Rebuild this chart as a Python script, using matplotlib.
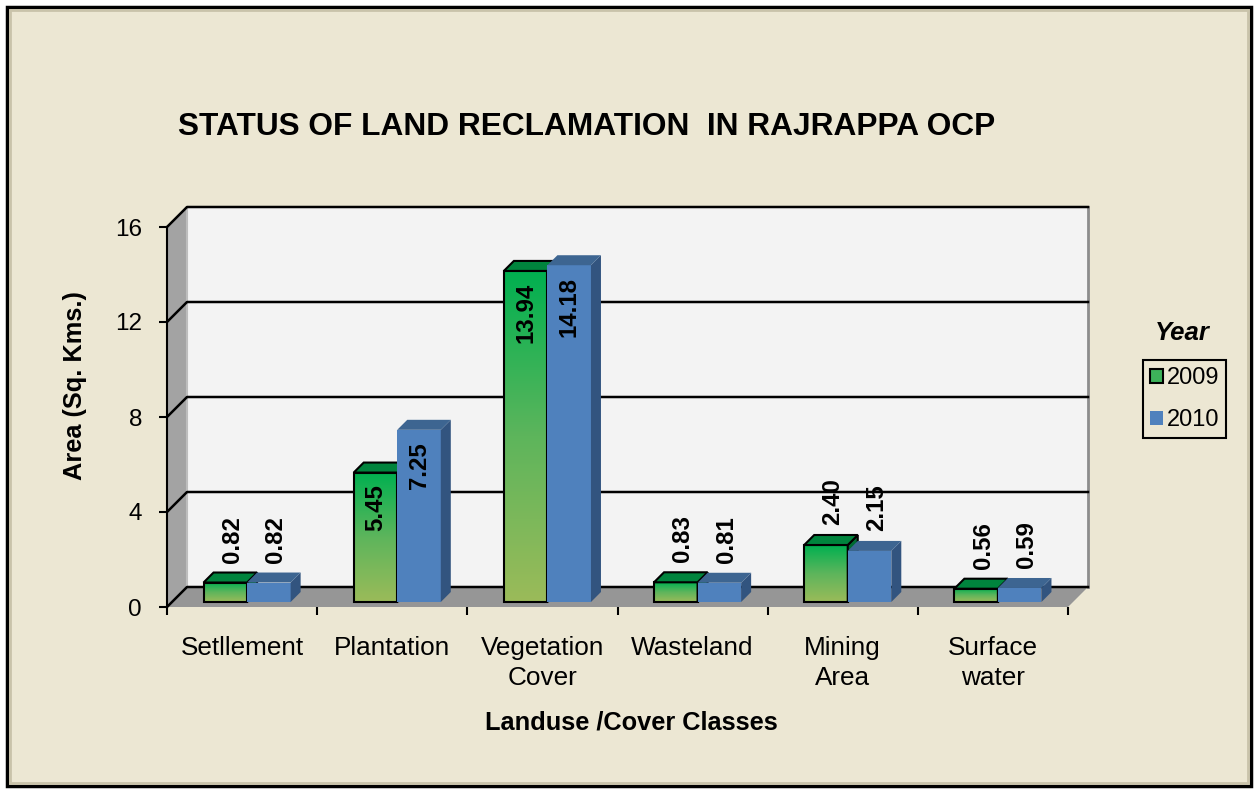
import numpy as np
import matplotlib
matplotlib.use('Agg')
import matplotlib.pyplot as plt
import matplotlib.transforms as mtransforms
from matplotlib.patches import Rectangle, Polygon, Patch
from matplotlib.colors import LinearSegmentedColormap

plt.rcParams['font.family'] = ['Liberation Sans', 'DejaVu Sans']

categories = ['Setllement', 'Plantation', 'Vegetation\nCover', 'Wasteland', 'Mining\nArea', 'Surface\nwater']
y2009 = [0.82, 5.45, 13.94, 0.83, 2.40, 0.56]
y2010 = [0.82, 7.25, 14.18, 0.81, 2.15, 0.59]
years = ['2009', '2010']
yticks = [0, 4, 8, 12, 16]

W, H = 1256, 790
fig = plt.figure(figsize=(W / 100, H / 100), dpi=100, facecolor='white')
bg = '#ECE7D3'

# outer frame with a little bevel
fig.patches.append(Rectangle((7 / W, 4 / H), 1244 / W, 779 / H, transform=fig.transFigure,
                             facecolor=bg, edgecolor='black', lw=2.5, zorder=-2))
fig.patches.append(Rectangle((10 / W, 7 / H), 1238 / W, 773 / H, transform=fig.transFigure,
                             facecolor='none', edgecolor='#C9C3AA', lw=2, zorder=-1))

# front plane of the pseudo-3D plot
ax = fig.add_axes([167 / W, (H - 607) / H, 901 / W, 380 / H])
ax.patch.set_visible(False)
n = len(categories)
ax.set_xlim(-0.5, n - 0.5)
ax.set_ylim(0, 16)
ax.set_autoscale_on(False)

DEPTH = 20      # full depth of the box, pixels
B0, B1 = 5, 15  # bars sit between these depths


def px(x, y, d):
    X, Y = ax.transData.transform((x, y))
    return (X + d, Y + d)


def poly(pts, **kw):
    p = Polygon(pts, closed=True, transform=mtransforms.IdentityTransform(), clip_on=False, **kw)
    ax.add_patch(p)
    return p


def line(pts, **kw):
    xs, ys = zip(*pts)
    ax.plot(xs, ys, transform=mtransforms.IdentityTransform(), clip_on=False, **kw)


x0, x1 = -0.5, n - 0.5
# back wall
poly([px(x0, 0, DEPTH), px(x1, 0, DEPTH), px(x1, 16, DEPTH), px(x0, 16, DEPTH)],
     facecolor='#F3F3F3', edgecolor='none', zorder=1)
line([px(x1, 0, DEPTH), px(x1, 16, DEPTH)], color='#8C8C8C', lw=2, zorder=1.2)
# floor
poly([px(x0, 0, 0), px(x1, 0, 0), px(x1, 0, DEPTH), px(x0, 0, DEPTH)],
     facecolor='#969696', edgecolor='none', zorder=1.1)
# left wall
poly([px(x0, 0, 0), px(x0, 16, 0), px(x0, 16, DEPTH), px(x0, 0, DEPTH)],
     facecolor='#A3A3A3', edgecolor='none', zorder=1.1)
line([px(x0, 0, DEPTH), px(x0, 16, DEPTH)], color='#BDBDBD', lw=1.5, zorder=1.2)
# gridlines on back and left walls
for t in yticks:
    line([px(x0, t, 0), px(x0, t, DEPTH), px(x1, t, DEPTH)], color='black', lw=1.8, zorder=1.3)

front = mtransforms.offset_copy(ax.transData, fig=fig, x=B0, y=B0, units='dots')
x = np.arange(n)
w = 0.29
grad_cmap = LinearSegmentedColormap.from_list('g', ['#9BBB59', '#5DB55C', '#00B050'])
grad = np.linspace(0, 1, 256).reshape(-1, 1)

green = ax.bar(x - w, y2009, w, align='edge', facecolor='none', edgecolor='black', lw=1.5)
blue = ax.bar(x, y2010, w, align='edge', facecolor='#4F81BD', edgecolor='none')

for i in range(n):
    z = 3 + i * 0.1
    for bars, kind in ((green, 'g'), (blue, 'b')):
        p = bars[i]
        p.set_transform(front)
        bx0 = p.get_x()
        bx1 = bx0 + p.get_width()
        h = p.get_height()
        off = 0 if kind == 'g' else 0.04
        if kind == 'g':
            p.set_zorder(z + 0.02)
            im = ax.imshow(grad, extent=(bx0, bx1, 0, h), origin='lower', cmap=grad_cmap,
                           aspect='auto', transform=front, zorder=z + 0.01,
                           interpolation='bilinear')
            im.set_clip_path(p)
            topc, sidec, ec = '#00843D', '#006B32', 'black'
        else:
            p.set_zorder(z + 0.05)
            topc, sidec, ec = '#3D6591', '#32547F', 'none'
        poly([px(bx0, h, B0), px(bx1, h, B0), px(bx1, h, B1), px(bx0, h, B1)],
             facecolor=topc, edgecolor=ec, lw=1.5, zorder=z + 0.03 + off)
        poly([px(bx1, 0, B0), px(bx1, h, B0), px(bx1, h, B1), px(bx1, 0, B1)],
             facecolor=sidec, edgecolor=ec, lw=1.5, zorder=z + 0.025 + off)
        # value label
        xc = bx0 + p.get_width() / 2
        v = h
        if v > 4:
            tr = mtransforms.offset_copy(ax.transData, fig=fig, x=B0, y=B0 - 12, units='dots')
            ax.text(xc, v, f'{v:.2f}', transform=tr, rotation=90, ha='center', va='top',
                    fontsize=17.3, fontweight='bold', zorder=10)
        else:
            tr = mtransforms.offset_copy(ax.transData, fig=fig, x=B0 + 7, y=B0 + 20, units='dots')
            ax.text(xc, v, f'{v:.2f}', transform=tr, rotation=90, ha='center', va='bottom',
                    fontsize=17.3, fontweight='bold', zorder=10)

# axes, ticks
for s in ['top', 'right', 'bottom']:
    ax.spines[s].set_visible(False)
ax.spines['left'].set_linewidth(1.5)
ax.spines['left'].set_zorder(2)
ax.set_yticks(yticks)
ax.tick_params(axis='y', direction='out', length=6, width=1.5, pad=12, labelsize=17.5)
ax.set_xticks(np.arange(n + 1) - 0.5)
ax.set_xticklabels([])
ax.set_xticks(x, minor=True)
ax.set_xticklabels(categories, minor=True)
ax.tick_params(axis='x', which='major', direction='out', length=6, width=1.5)
ax.tick_params(axis='x', which='minor', length=0, pad=21, labelsize=18.8)
for t in ax.get_xticklabels(minor=True):
    t.set_linespacing(1.3)

fig.text(587 / W, 1 - 127 / H, 'STATUS OF LAND RECLAMATION  IN RAJRAPPA OCP',
         ha='center', va='center', fontsize=22.8, fontweight='bold')
fig.text(631 / W, 1 - 722 / H, 'Landuse /Cover Classes', ha='center', va='center',
         fontsize=18.3, fontweight='bold')
fig.text(75 / W, 1 - 386 / H, 'Area (Sq. Kms.)', ha='center', va='center', rotation=90,
         fontsize=18.3, fontweight='bold')
fig.text(1182 / W, 1 - 333 / H, 'Year', ha='center', va='center', fontsize=18.5,
         fontweight='bold', fontstyle='italic')

handles = [Patch(facecolor='#3DB35A', edgecolor='black', lw=1.5),
           Patch(facecolor='#4F81BD', edgecolor='none')]
leg = fig.legend(handles, years, loc='upper left', bbox_to_anchor=(1143 / W, 1 - 360 / H),
                 fontsize=17, frameon=True, fancybox=False, edgecolor='black',
                 facecolor=bg, framealpha=1, handlelength=0.55, handleheight=0.55,
                 handletextpad=0.15, labelspacing=0.85, borderpad=0.3, borderaxespad=0)
leg.get_frame().set_linewidth(1.5)

fig.savefig('out.png', dpi=100, facecolor=fig.get_facecolor())
